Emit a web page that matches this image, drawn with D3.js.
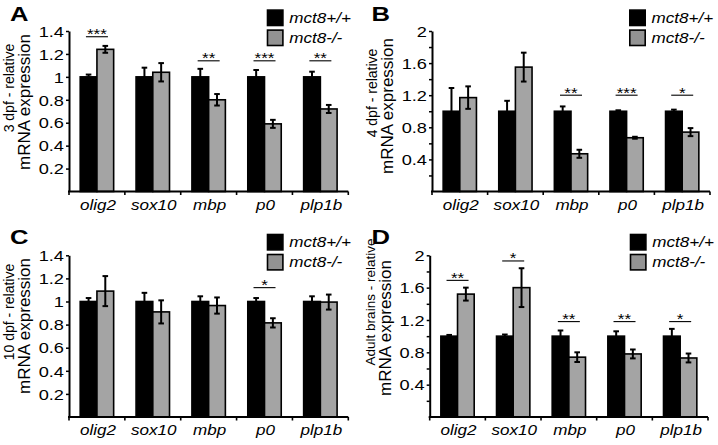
<!DOCTYPE html>
<html>
<head>
<meta charset="utf-8">
<script src="https://cdn.jsdelivr.net/npm/d3@7"></script>
<style>
  html, body { margin: 0; padding: 0; background: #fff; }
  svg { display: block; }
  text { font-family: "Liberation Sans", Arial, Helvetica, sans-serif; fill: #000; }
</style>
</head>
<body>
<svg id="chart" width="718" height="445"></svg>
<script>
// ---------- data ----------
const categories = ["olig2", "sox10", "mbp", "p0", "plp1b"];
const seriesNames = ["mct8+/+", "mct8-/-"];

// Panel A: 3 dpf
const wtA = [1, 1, 1, 1, 1];
const wtErrA = [0.02, 0.08, 0.07, 0.06, 0.045];
const mutA = [1.24, 1.04, 0.80, 0.59, 0.72];
const mutErrA = [0.03, 0.08, 0.05, 0.035, 0.035];
const sigA = ["***", "", "**", "***", "**"];
const sigLevelA = [1.35, null, 1.14, 1.14, 1.14];

// Panel B: 4 dpf
const wtB = [1, 1, 1, 1, 1];
const wtErrB = [0.29, 0.13, 0.06, 0.012, 0.02];
const mutB = [1.17, 1.55, 0.47, 0.67, 0.74];
const mutErrB = [0.14, 0.18, 0.05, 0.012, 0.05];
const sigB = ["", "", "**", "***", "*"];
const sigLevelB = [null, null, 1.2, 1.2, 1.2];

// Panel C: 10 dpf
const wtC = [1, 1, 1, 1, 1];
const wtErrC = [0.03, 0.075, 0.045, 0.03, 0.045];
const mutC = [1.09, 0.91, 0.965, 0.815, 0.995];
const mutErrC = [0.13, 0.10, 0.07, 0.04, 0.065];
const sigC = ["", "", "", "*", ""];
const sigLevelC = [null, null, null, 1.12, null];

// Panel D: adult brains
const wtD = [1, 1, 1, 1, 1];
const wtErrD = [0.015, 0.02, 0.07, 0.06, 0.09];
const mutD = [1.52, 1.60, 0.74, 0.78, 0.73];
const mutErrD = [0.08, 0.24, 0.06, 0.055, 0.055];
const sigD = ["**", "*", "**", "**", "*"];
const sigLevelD = [1.69, 1.93, 1.18, 1.18, 1.18];

// tick values / labels
const ticks14 = [0.2, 0.4, 0.6, 0.8, 1.0, 1.2, 1.4];
const labels14 = [0.2, 0.4, 0.6, 0.8, 1.0, 1.2, 1.4];
const ticks20 = [0.2, 0.4, 0.6, 0.8, 1.0, 1.2, 1.4, 1.6, 1.8, 2.0];
const labels20 = [0.4, 0.8, 1.2, 1.6, 2.0];

const titlesLine1 = ["3 dpf - relative", "4 dpf - relative", "10 dpf - relative", "Adult brains - relative"];
const titleLine2 = "mRNA expression";
const panelLetters = ["A", "B", "C", "D"];

// ---------- layout ----------
const SX = 1.22;          // horizontal text stretch of the original figure
const colors = { "mct8+/+": "#000000", "mct8-/-": "#a4a4a4" };
const legendColors = { "mct8+/+": "#000000", "mct8-/-": "#939393" };

const panels = [
  { letter: panelLetters[0], t1: titlesLine1[0], wt: wtA, wtErr: wtErrA, mut: mutA, mutErr: mutErrA, sig: sigA, sigLevel: sigLevelA,
    ymax: 1.4, ticks: ticks14, labels: labels14,
    left: 69, right: 348.3, top: 31, bottom: 191.5,
    letterX: 10, letterY: 20.5, legX: 266.7, legY: 9.3,
    t1x: 14, t1y: 88, t1s: 14, t2x: 29.5, t2y: 102 },
  { letter: panelLetters[1], t1: titlesLine1[1], wt: wtB, wtErr: wtErrB, mut: mutB, mutErr: mutErrB, sig: sigB, sigLevel: sigLevelB,
    ymax: 2.0, ticks: ticks20, labels: labels20,
    left: 432, right: 710, top: 31, bottom: 191.5,
    letterX: 371.5, letterY: 20.5, legX: 629, legY: 9.3,
    t1x: 377, t1y: 93, t1s: 14, t2x: 393, t2y: 106 },
  { letter: panelLetters[2], t1: titlesLine1[2], wt: wtC, wtErr: wtErrC, mut: mutC, mutErr: mutErrC, sig: sigC, sigLevel: sigLevelC,
    ymax: 1.4, ticks: ticks14, labels: labels14,
    left: 69, right: 348.3, top: 255.3, bottom: 417,
    letterX: 10, letterY: 244, legX: 266.7, legY: 233.7,
    t1x: 14, t1y: 312, t1s: 14, t2x: 29.5, t2y: 326 },
  { letter: panelLetters[3], t1: titlesLine1[3], wt: wtD, wtErr: wtErrD, mut: mutD, mutErr: mutErrD, sig: sigD, sigLevel: sigLevelD,
    ymax: 2.0, ticks: ticks20, labels: labels20,
    left: 429.7, right: 708, top: 255.3, bottom: 417,
    letterX: 371.5, letterY: 244, legX: 629.7, legY: 233.7,
    t1x: 375, t1y: 302, t1s: 13.5, t2x: 391, t2y: 328 }
];

const svg = d3.select("#chart");
svg.append("rect").attr("width", 718).attr("height", 445).attr("fill", "#fff");

function fmt(v) { return d3.format("~g")(+v.toFixed(2)); }

panels.forEach(p => {
  const g = svg.append("g");
  const x = d3.scaleBand().domain(categories).range([p.left, p.right]).padding(0);
  const xs = d3.scaleBand().domain(seriesNames).range([0, x.bandwidth()]).paddingInner(0).paddingOuter(0.67);
  const y = d3.scaleLinear().domain([0, p.ymax]).range([p.bottom, p.top]);

  const rows = categories.map((c, i) => ({
    cat: c,
    vals: [
      { s: seriesNames[0], v: p.wt[i], e: p.wtErr[i] },
      { s: seriesNames[1], v: p.mut[i], e: p.mutErr[i] }
    ],
    sig: p.sig[i], sigLevel: p.sigLevel[i]
  }));

  // bars
  const grp = g.selectAll("g.cat").data(rows).join("g").attr("class", "cat")
    .attr("transform", d => `translate(${x(d.cat)},0)`);
  grp.selectAll("rect").data(d => d.vals).join("rect")
    .attr("x", d => xs(d.s))
    .attr("y", d => y(d.v))
    .attr("width", xs.bandwidth())
    .attr("height", d => y(0) - y(d.v))
    .attr("fill", d => colors[d.s])
    .attr("stroke", "#000").attr("stroke-width", 1.6);

  // error bars
  const eb = grp.selectAll("g.err").data(d => d.vals).join("g").attr("class", "err")
    .attr("transform", d => `translate(${xs(d.s) + xs.bandwidth() / 2},0)`)
    .attr("stroke", "#000").attr("stroke-width", 2);
  eb.append("line").attr("y1", d => y(d.v - d.e)).attr("y2", d => y(d.v + d.e));
  eb.append("line").attr("x1", -2.8).attr("x2", 2.8).attr("y1", d => y(d.v + d.e)).attr("y2", d => y(d.v + d.e));
  eb.append("line").attr("x1", -2.8).attr("x2", 2.8).attr("y1", d => y(d.v - d.e)).attr("y2", d => y(d.v - d.e));

  // significance
  const sg = grp.filter(d => d.sig && d.sigLevel != null);
  sg.append("line")
    .attr("x1", x.bandwidth() / 2 - 11).attr("x2", x.bandwidth() / 2 + 11)
    .attr("y1", d => y(d.sigLevel)).attr("y2", d => y(d.sigLevel))
    .attr("stroke", "#000").attr("stroke-width", 1.1);
  sg.append("text")
    .attr("text-anchor", "middle")
    .attr("font-size", 14)
    .attr("transform", d => `translate(${x.bandwidth() / 2},${y(d.sigLevel) + 2.5}) scale(${SX},1)`)
    .text(d => d.sig);

  // y axis
  const yAxis = d3.axisLeft(y).tickValues(p.ticks).tickSize(3).tickSizeOuter(0)
    .tickFormat(v => p.labels.some(l => Math.abs(l - v) < 1e-9) ? fmt(v) : "");
  const ya = g.append("g").attr("transform", `translate(${p.left},0)`).call(yAxis);
  ya.select(".domain").attr("stroke", "#000").attr("stroke-width", 2);
  ya.selectAll(".tick line").attr("stroke", "#000").attr("stroke-width", 1.5);
  ya.selectAll(".tick text")
    .attr("x", 0).attr("dy", "0.36em")
    .attr("transform", `translate(-5,0) scale(${SX * 1.03},1)`)
    .attr("font-size", 14.5)
    .attr("font-family", "Liberation Sans, Arial, sans-serif")
    .attr("fill", "#000");

  // x axis line and boundary ticks
  g.append("line").attr("x1", p.left - 1).attr("x2", p.right)
    .attr("y1", y(0)).attr("y2", y(0)).attr("stroke", "#000").attr("stroke-width", 2);
  const bounds = categories.map(c => x(c)).concat([x(categories[categories.length - 1]) + x.bandwidth()]);
  g.selectAll("line.xt").data(bounds).join("line").attr("class", "xt")
    .attr("x1", d => d).attr("x2", d => d)
    .attr("y1", y(0)).attr("y2", y(0) + 3.5)
    .attr("stroke", "#000").attr("stroke-width", 1.6);

  // category labels
  g.selectAll("text.cat").data(categories).join("text").attr("class", "cat")
    .attr("text-anchor", "middle")
    .attr("font-size", 14)
    .attr("font-style", "italic")
    .attr("transform", d => `translate(${x(d) + x.bandwidth() / 2 + 1},${y(0) + 18}) scale(${SX},1)`)
    .text(d => d);

  // y titles
  g.append("text").attr("text-anchor", "middle").attr("font-size", p.t1s)
    .attr("transform", `translate(${p.t1x},${p.t1y}) rotate(-90)`)
    .text(p.t1);
  g.append("text").attr("text-anchor", "middle").attr("font-size", 17)
    .attr("transform", `translate(${p.t2x},${p.t2y}) rotate(-90)`)
    .text(titleLine2);

  // panel letter
  g.append("text").attr("font-size", 21).attr("font-weight", "bold")
    .attr("transform", `translate(${p.letterX},${p.letterY}) scale(${SX},1)`)
    .text(p.letter);

  // legend
  const lg = g.append("g").attr("transform", `translate(${p.legX},${p.legY})`);
  const li = lg.selectAll("g").data(seriesNames).join("g")
    .attr("transform", (d, i) => `translate(0,${i * 20})`);
  li.append("rect").attr("x", 0.8).attr("y", 0.8).attr("width", 15.4).attr("height", 15.4)
    .attr("fill", d => legendColors[d]).attr("stroke", "#000").attr("stroke-width", 1.6);
  li.append("text").attr("font-size", 14).attr("font-style", "italic")
    .attr("transform", `translate(22.5,13.5) scale(${SX},1)`)
    .text(d => d);
});
</script>
</body>
</html>
